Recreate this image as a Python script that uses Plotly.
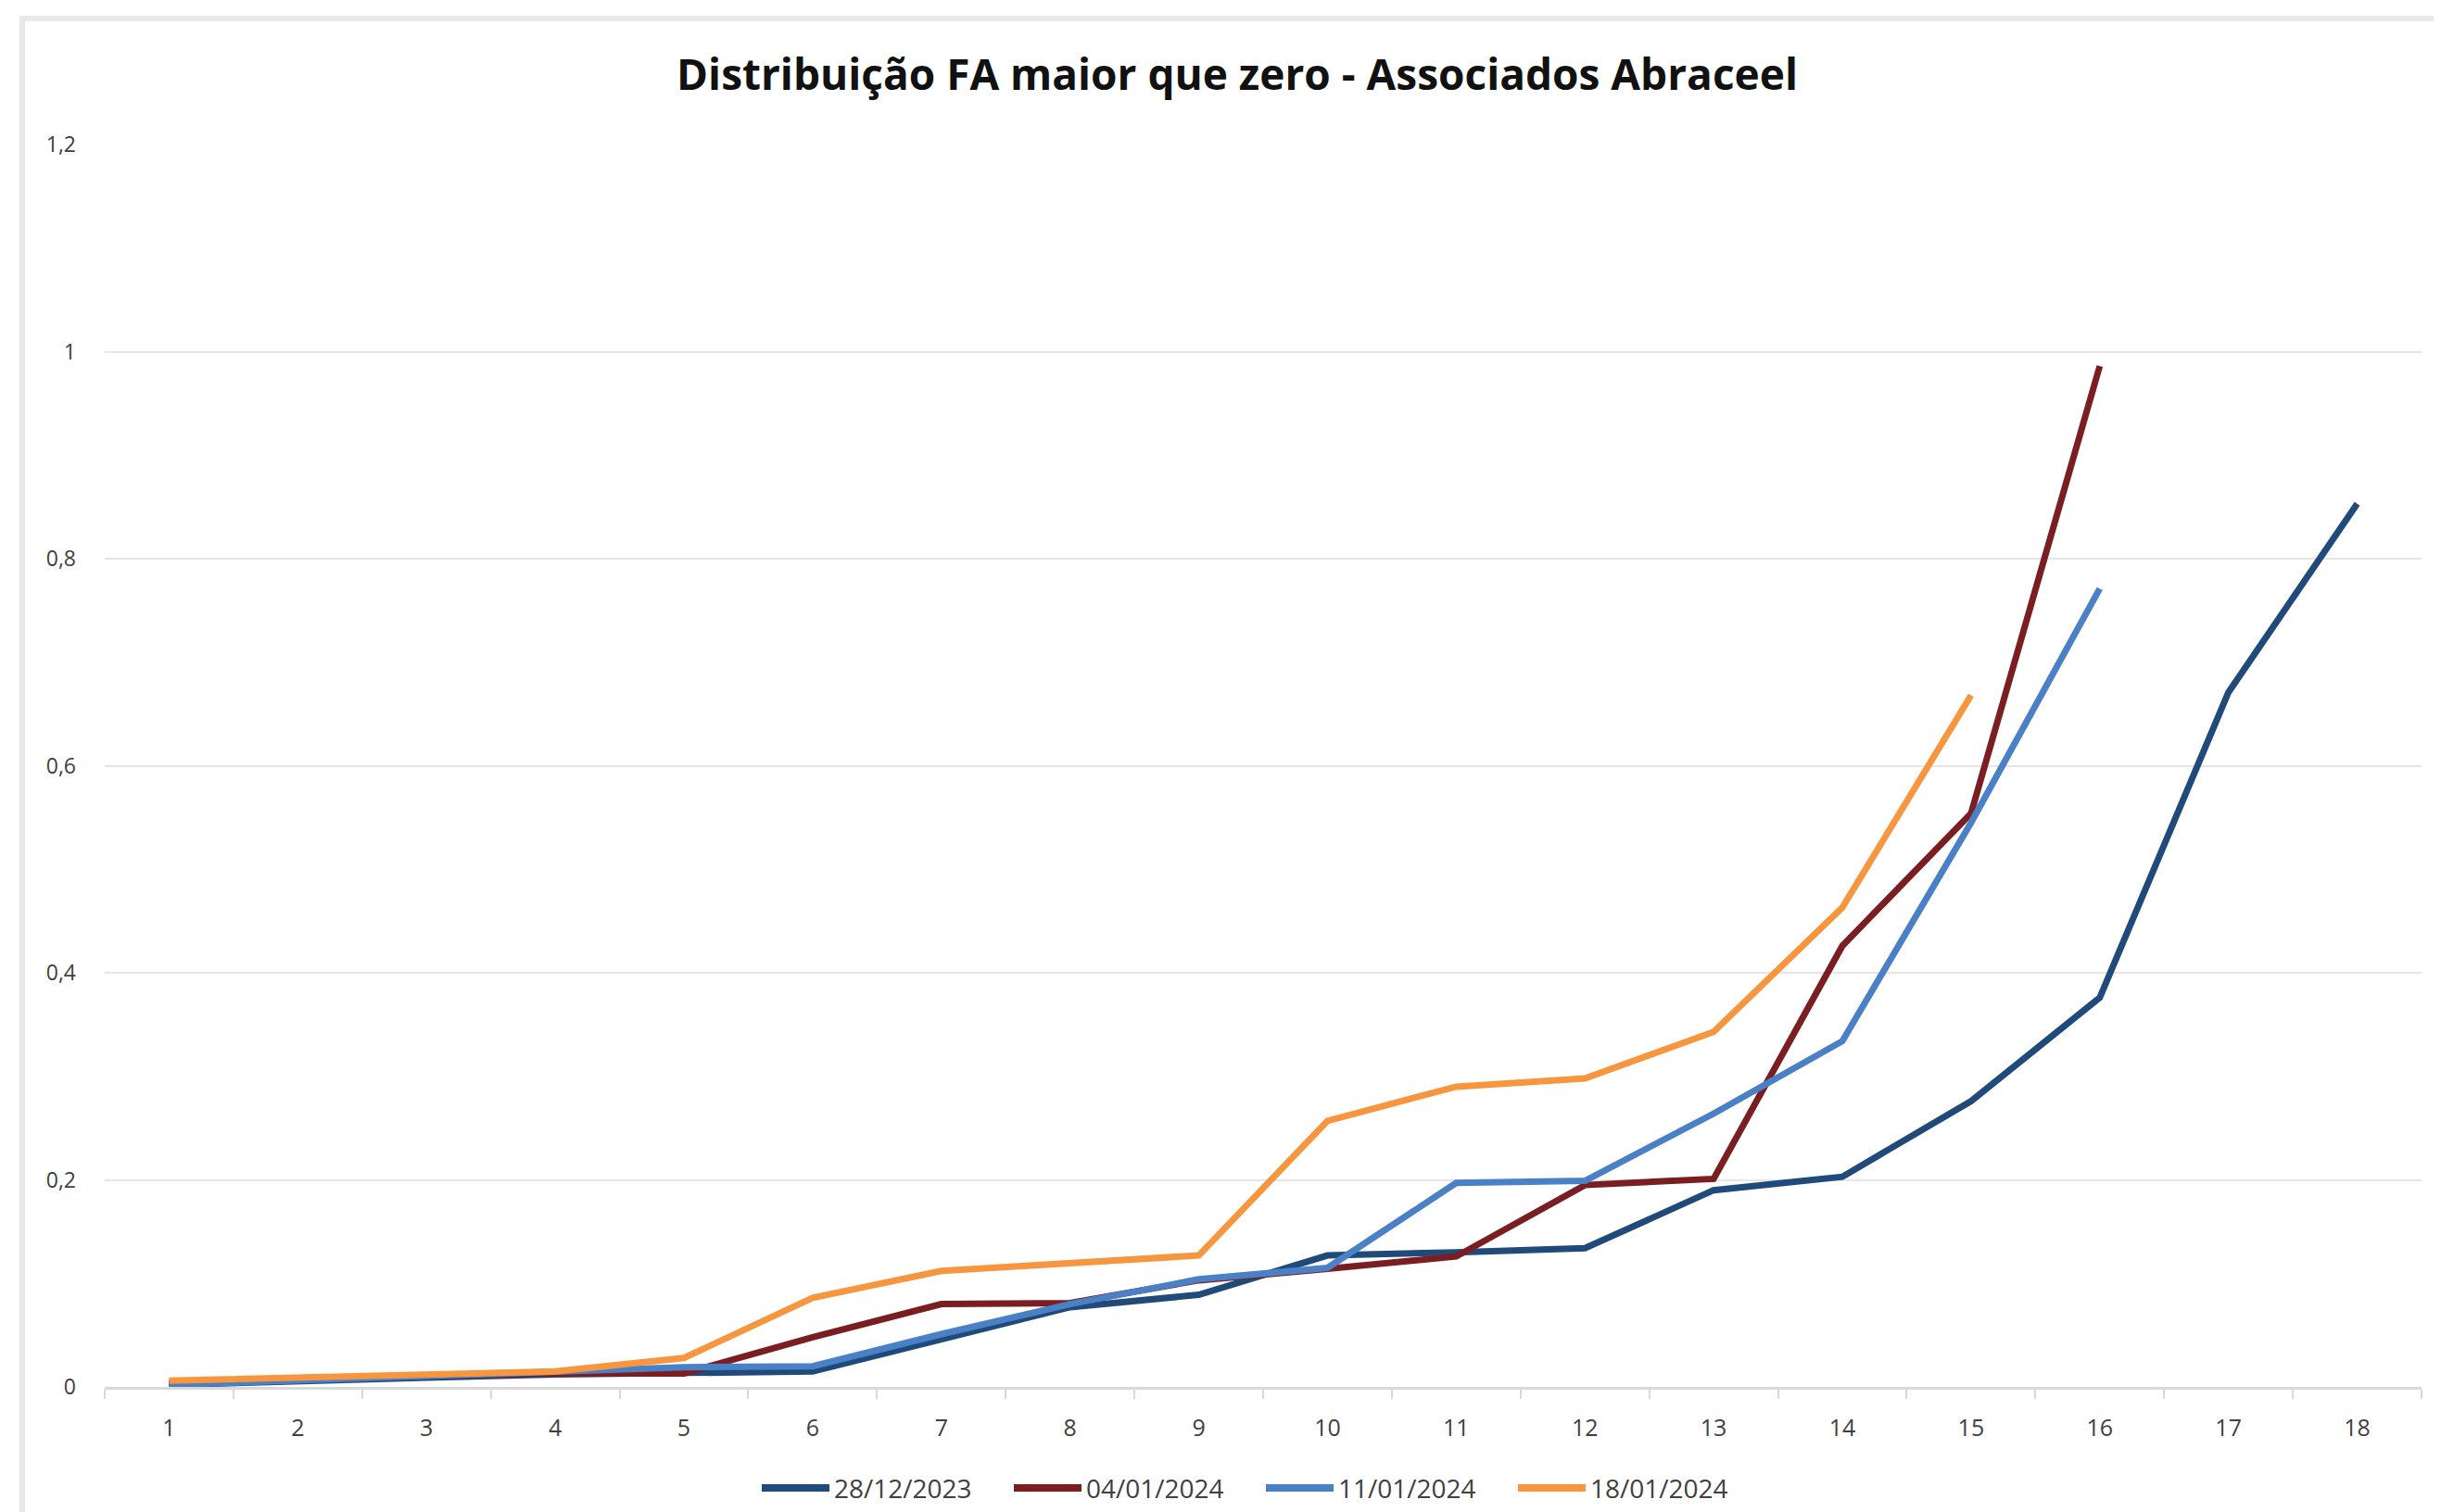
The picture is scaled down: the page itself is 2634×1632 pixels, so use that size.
import plotly.graph_objects as go

categories = [str(i) for i in range(1, 19)]
series_names = ["28/12/2023", "04/01/2024", "11/01/2024", "18/01/2024"]
s_28_12_2023 = [0.002, 0.006, 0.009, 0.012, 0.014, 0.015, 0.046, 0.077, 0.089, 0.127,
                0.130, 0.134, 0.190, 0.203, 0.276, 0.376, 0.671, 0.853]
s_04_01_2024 = [0.004, 0.008, 0.011, 0.013, 0.013, 0.048, 0.080, 0.081, 0.103, 0.114,
                0.126, 0.195, 0.201, 0.426, 0.554, 0.986]
s_11_01_2024 = [0.002, 0.006, 0.010, 0.014, 0.019, 0.020, 0.051, 0.080, 0.104, 0.115,
                0.197, 0.199, 0.264, 0.334, 0.545, 0.771]
s_18_01_2024 = [0.006, 0.009, 0.012, 0.015, 0.028, 0.086, 0.112, 0.119, 0.127, 0.257,
                0.290, 0.298, 0.343, 0.463, 0.668]
y_tick_vals = [0, 0.2, 0.4, 0.6, 0.8, 1.0, 1.2]
y_tick_labels = ["0", "0,2", "0,4", "0,6", "0,8", "1", "1,2"]

colors = ["#1F4A7A", "#7A1E22", "#4A80C6", "#F7963F"]
all_series = [s_28_12_2023, s_04_01_2024, s_11_01_2024, s_18_01_2024]

# page body margin offsets the figure by 8px; size figure to fit the window
OFF = 8
W, H = 2634 - OFF, 1632 - OFF
# plot area in screen coordinates: left 113, right 2613, top 156, bottom 1497
L, T = 113 - OFF, 156 - OFF
R, B = W - (2613 - OFF), H - (1497 - OFF)
pw, ph = W - L - R, H - T - B

fig = go.Figure()
for name, vals, c in zip(series_names, all_series, colors):
    fig.add_trace(go.Scatter(
        x=categories[:len(vals)], y=vals, name=name, mode="lines",
        line=dict(color=c, width=7), showlegend=False,
    ))

def px_x(p):
    return (p - OFF - L) / pw

def px_y(p):
    return (H - B - (p - OFF)) / ph

# outer chart border (left and top edges visible in reference)
fig.add_shape(type="line", xref="paper", yref="paper",
              x0=px_x(24), x1=px_x(24), y0=px_y(1640), y1=px_y(20),
              line=dict(color="#E8E8E8", width=6))
fig.add_shape(type="line", xref="paper", yref="paper",
              x0=px_x(21), x1=px_x(2640), y0=px_y(20), y1=px_y(20),
              line=dict(color="#E8E8E8", width=6))

# legend drawn below the plot, Excel style (long line sample + label)
leg_x0, leg_step, leg_len, leg_y = 822, 272, 73, 1606
for i, (name, c) in enumerate(zip(series_names, colors)):
    x0 = leg_x0 + i * leg_step
    fig.add_shape(type="line", xref="paper", yref="paper",
                  x0=px_x(x0), x1=px_x(x0 + leg_len),
                  y0=px_y(leg_y), y1=px_y(leg_y),
                  line=dict(color=c, width=8))
    fig.add_annotation(text=name, xref="paper", yref="paper",
                       x=px_x(x0 + leg_len + 3), y=px_y(leg_y),
                       xanchor="left", yanchor="middle", showarrow=False,
                       font=dict(family="Open Sans", size=28, color="#404040"))

fig.update_layout(
    width=W, height=H,
    margin=dict(l=L, r=R, t=T, b=B, pad=0, autoexpand=False),
    paper_bgcolor="white", plot_bgcolor="white",
    font=dict(family="Open Sans", color="#404040"),
    showlegend=False,
    title=dict(
        text="<b>Distribuição FA maior que zero - Associados Abraceel</b>",
        font=dict(family="Open Sans", size=46, color="#111111"),
        x=px_x(1335), xref="paper", xanchor="center",
        y=1 - (81 - OFF) / H, yref="container", yanchor="middle",
    ),
    xaxis=dict(
        type="category", categoryorder="array", categoryarray=categories,
        range=[-0.5, 17.5],
        tickson="boundaries", ticks="outside", ticklen=10, tickwidth=2,
        tickcolor="#D9D9D9", showline=True, linecolor="#D9D9D9", linewidth=3,
        showgrid=False, tickfont=dict(size=25, color="#404040"),
        ticklabelstandoff=20,
    ),
    yaxis=dict(
        range=[0, 1.2], tickvals=y_tick_vals, ticktext=y_tick_labels,
        showgrid=True, gridcolor="#E6E6E6", gridwidth=2, zeroline=False,
        showline=False, ticks="", tickfont=dict(size=23, color="#404040"),
        ticklabelstandoff=30,
    ),
)

fig.write_html("out.html")
